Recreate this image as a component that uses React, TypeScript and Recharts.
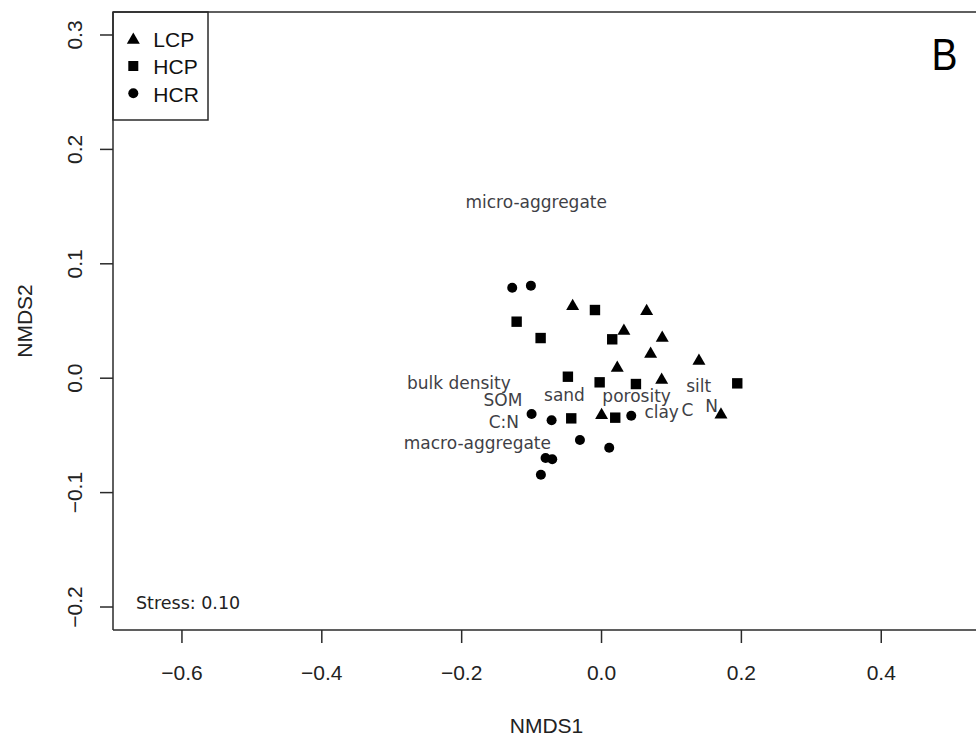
import React from 'react';
import { ScatterChart, Scatter, XAxis, YAxis, ReferenceLine, Customized } from 'recharts';

// LCP (triangles)
const lcpX = [-0.0413, 0.0645, 0.032, 0.0868, 0.0702, 0.1393, 0.0225, 0.086, 0.0001, 0.1708];
const lcpY = [0.0629, 0.0585, 0.0413, 0.0352, 0.0212, 0.0151, 0.009, -0.0015, -0.0324, -0.0319];
// HCP (squares)
const hcpX = [-0.0094, -0.1214, -0.0871, 0.0153, -0.0481, -0.0027, 0.0492, 0.1941, -0.0433, 0.0196];
const hcpY = [0.0596, 0.0494, 0.0351, 0.034, 0.0013, -0.0036, -0.0051, -0.0045, -0.0351, -0.0345];
// HCR (circles)
const hcrX = [-0.1277, -0.101, -0.1, -0.0714, -0.0309, 0.011, 0.0425, -0.08, -0.0705, -0.0867];
const hcrY = [0.0791, 0.0809, -0.0313, -0.0368, -0.054, -0.0608, -0.0328, -0.0698, -0.0709, -0.0844];
// environmental variable labels
const envLabels = ['micro-aggregate', 'bulk density', 'SOM', 'C:N', 'macro-aggregate', 'sand', 'porosity', 'clay', 'C', 'silt', 'N'];
const envX = [-0.0934, -0.204, -0.141, -0.1396, -0.1775, -0.053, 0.0502, 0.086, 0.1229, 0.139, 0.1575];
const envY = [0.154, -0.0042, -0.0188, -0.0384, -0.0566, -0.0144, -0.0153, -0.0298, -0.0278, -0.0066, -0.024];

const xTicks = [-0.6, -0.4, -0.2, 0, 0.2, 0.4];
const yTicks = [-0.2, -0.1, 0, 0.1, 0.2, 0.3];
const xDomain = [-0.6986, 0.5355];
const yDomain = [-0.2201, 0.3201];

const seriesNames = ['LCP', 'HCP', 'HCR'];
const stressText = 'Stress: 0.10';
const panelLetter = 'B';

const zip = (xs: number[], ys: number[]) => xs.map((x, i) => ({ x, y: ys[i] }));
const lcpData = zip(lcpX, lcpY);
const hcpData = zip(hcpX, hcpY);
const hcrData = zip(hcrX, hcrY);
const envData = envLabels.map((label, i) => ({ x: envX[i], y: envY[i], label }));

const AXIS_FONT = '"Liberation Sans", Arial, Helvetica, sans-serif';
const LABEL_FONT = '"DejaVu Sans", Verdana, sans-serif';
const INK = '#2a2a2a';

const fmt = (v: number) => v.toFixed(1).replace('-', '\u2212');

const triPoints = (cx: number, cy: number) =>
  `${cx},${cy - 7.5} ${cx + 6.5},${cy + 3.75} ${cx - 6.5},${cy + 3.75}`;

const TriangleShape = (p: any) => <polygon points={triPoints(p.cx, p.cy)} fill="#000" />;
const SquareShape = (p: any) => <rect x={p.cx - 5.2} y={p.cy - 5.2} width={10.4} height={10.4} fill="#000" />;
const CircleShape = (p: any) => <circle cx={p.cx} cy={p.cy} r={5} fill="#000" />;
const LabelShape = (p: any) => (
  <text x={p.cx} y={p.cy} dy="0.35em" textAnchor="middle" fontFamily={LABEL_FONT} fontSize={17} fill="#3f3f46">
    {p.payload.label}
  </text>
);

const XTick = (p: any) => (
  <text x={p.x} y={p.y} dy={37} textAnchor="middle" fontFamily={AXIS_FONT} fontSize={21} fill="#222">
    {fmt(p.payload.value)}
  </text>
);
const YTick = (p: any) => {
  const tx = p.x - 18.3;
  return (
    <text x={tx} y={p.y} transform={`rotate(-90 ${tx} ${p.y})`} textAnchor="middle" fontFamily={AXIS_FONT} fontSize={21} fill="#222">
      {fmt(p.payload.value)}
    </text>
  );
};

const Decorations = () => (
  <g>
    {/* legend */}
    <rect x={113} y={12} width={95} height={108} fill="#fff" stroke={INK} strokeWidth={1.5} />
    <polygon points={triPoints(133.3, 40)} fill="#000" />
    <rect x={128.3} y={61} width={10} height={10} fill="#000" />
    <circle cx={133.3} cy={93.3} r={5} fill="#000" />
    {seriesNames.map((n, i) => (
      <text key={n} x={153.3} y={46.7 + i * 27.5} fontFamily={AXIS_FONT} fontSize={21} fill="#111">
        {n}
      </text>
    ))}
    {/* panel letter */}
    <text x={931.5} y={70} fontFamily={AXIS_FONT} fontSize={44} fill="#000" textLength={26} lengthAdjust="spacingAndGlyphs">
      {panelLetter}
    </text>
    {/* stress */}
    <text x={136} y={609} fontFamily={LABEL_FONT} fontSize={17.5} fill="#222">
      {stressText}
    </text>
    {/* axis titles */}
    <text x={546.5} y={733} textAnchor="middle" fontFamily={AXIS_FONT} fontSize={21} fill="#222">NMDS1</text>
    <text x={32} y={321} transform="rotate(-90 32 321)" textAnchor="middle" fontFamily={AXIS_FONT} fontSize={21} fill="#222">NMDS2</text>
  </g>
);

export default function App() {
  return (
    <div style={{ position: 'absolute', left: 0, top: 0, width: 976, height: 738, background: '#fff', overflow: 'hidden' }}>
      <ScatterChart width={976} height={738} margin={{ top: 12, right: 0, bottom: 0, left: 0 }}>
        <XAxis
          type="number"
          dataKey="x"
          domain={xDomain}
          allowDataOverflow
          ticks={xTicks}
          interval={0}
          height={108}
          tickSize={13}
          tickMargin={0}
          tick={<XTick />}
          axisLine={{ stroke: INK, strokeWidth: 1.5 }}
          tickLine={{ stroke: INK, strokeWidth: 1.5 }}
        />
        <YAxis
          type="number"
          dataKey="y"
          domain={yDomain}
          allowDataOverflow
          ticks={yTicks}
          interval={0}
          width={113}
          tickSize={13}
          tickMargin={0}
          tick={<YTick />}
          axisLine={{ stroke: INK, strokeWidth: 1.5 }}
          tickLine={{ stroke: INK, strokeWidth: 1.5 }}
        />
        <ReferenceLine y={yDomain[1]} stroke={INK} strokeWidth={1.5} ifOverflow="visible" />
        <Scatter name="labels" data={envData} shape={LabelShape} isAnimationActive={false} />
        <Scatter name="LCP" data={lcpData} shape={TriangleShape} isAnimationActive={false} />
        <Scatter name="HCP" data={hcpData} shape={SquareShape} isAnimationActive={false} />
        <Scatter name="HCR" data={hcrData} shape={CircleShape} isAnimationActive={false} />
        <Customized component={Decorations} />
      </ScatterChart>
    </div>
  );
}
